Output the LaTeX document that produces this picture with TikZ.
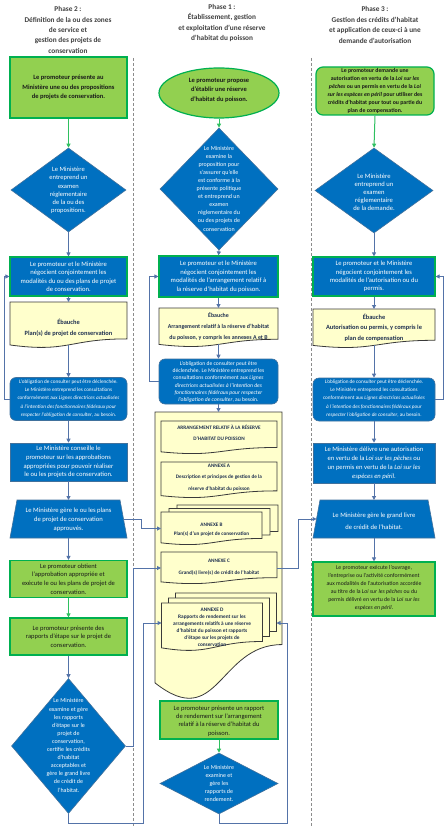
\documentclass[tikz,border=0pt]{standalone}
\usepackage{fontspec}
\setmainfont{Carlito}
\usetikzlibrary{shapes.geometric,arrows.meta,calc}
\definecolor{mblue}{HTML}{0070C0}
\definecolor{mbline}{HTML}{41719C}
\definecolor{mgreen}{HTML}{92D050}
\definecolor{mgline}{HTML}{00B050}
\definecolor{myel}{HTML}{FFFFCC}
\definecolor{mdline}{HTML}{3A3A3A}
\definecolor{conn}{HTML}{5473A8}
\definecolor{gconn}{HTML}{2FC060}
\definecolor{navy}{HTML}{1F3050}
\definecolor{ttl}{HTML}{404040}
\definecolor{sepc}{HTML}{8C8C8C}
\newcommand\fsz[2]{\fontsize{#1}{#2}\selectfont}
% name, cx, top, width, height
\newcommand\mydoc[5]{%
 \path[draw=mdline,fill=myel,line width=.8pt] ({#2-#4/2},#3) -- ({#2+#4/2},#3) -- ({#2+#4/2},{#3+0.802*#5}) .. controls (#2,{#3+0.802*#5}) and (#2,{#3+1.107*#5}) .. ({#2-#4/2},{#3+0.934*#5}) -- cycle;
 \node[inner sep=0pt,outer sep=0pt,minimum width=#4pt,minimum height=#5pt] (#1) at (#2,{#3+#5/2}) {};
 \coordinate (#1b) at (#2,{#3+0.933*#5});
}
% name: trapezoid outline from an invisible node
\newcommand\mytrap[1]{%
 \path[draw=mbline,fill=mblue,line width=.6pt] ([xshift=7pt]#1.north west) -- ([xshift=-7pt]#1.north east) -- (#1.south east) -- (#1.south west) -- cycle;
}
\tikzset{
 bluebox/.style={draw=mbline,fill=mblue,line width=.6pt,inner sep=0pt},
 gbbox/.style={draw=mgline,fill=mblue,line width=1.2pt,inner sep=0pt},
 greenbox/.style={draw=mgline,fill=mgreen,line width=1.2pt,inner sep=0pt},
 dia/.style={shape=diamond,draw=mbline,fill=mblue,line width=.6pt,inner sep=0pt},
 trapbase/.style={inner sep=0pt,outer sep=0pt},
 wt/.style={text=white,align=center,inner sep=0pt},
 dt/.style={text=black!90,align=center,inner sep=0pt},
 nt/.style={text=navy,align=center,inner sep=0pt},
 ttlt/.style={text=ttl,align=center,inner sep=0pt,font=\bfseries\fsz{7.3}{10.4}},
 arr/.style={draw=conn,line width=1pt,-{Triangle[length=4pt,width=4pt]}},
 garr/.style={draw=gconn,line width=1pt,-{Triangle[length=4pt,width=4pt]}},
 sepline/.style={draw=sepc,line width=1pt,dash pattern=on 3pt off 2pt},
}
\begin{document}
\begin{tikzpicture}[x=1pt,y=-1pt]
\useasboundingbox[fill=white] (0,0) rectangle (445,826);
% separators
\draw[sepline] (133,58) -- (133,826);
\draw[sepline] (311,58) -- (311,826);
% headers
\node[ttlt] (h2) at (68,30) {Phase 2~:\\Définition de la ou des zones\\de service et\\gestion des projets de\\conservation};
\node[ttlt] (h1) at (222,23) {Phase 1~:\\Établissement, gestion\\et exploitation d’une réserve\\d’habitat du poisson};
\node[ttlt] (h3) at (375,25) {Phase 3~:\\Gestion des crédits d’habitat\\et application de ceux-ci à une\\demande d’autorisation};

% ===== LEFT COLUMN =====
\node[greenbox,minimum width=117pt,minimum height=61pt] (LG1) at (68.5,87.5) {};
\node[dt,font=\bfseries\fsz{6.5}{9.5}] (LG1t) at (LG1) {Le promoteur présente au\\Ministère une ou des propositions\\de projets de conservation.};
\node[dia,minimum width=115pt,minimum height=84pt] (LD1) at (68.5,190) {};
\node[wt,font=\fsz{6.5}{8.2}] (LD1t) at (68.5,190.5) {Le Ministère\\entreprend un\\examen\\réglementaire\\de la ou des\\propositions.};
\node[gbbox,minimum width=117pt,minimum height=39pt] (LB1) at (68.5,276.5) {};
\node[wt,font=\fsz{6.6}{8.5}] (LB1t) at (LB1) {Le promoteur et le Ministère\\négocient conjointement les\\modalités du ou des plans de projet\\de conservation.};
\mydoc{LDoc}{68.5}{302}{117}{46}
\node[nt,font=\bfseries\fsz{6.4}{11}] (LDoct) at (68.5,327.5) {Ébauche\\Plan(s) de projet de conservation};
\node[bluebox,rounded corners=6pt,minimum width=117pt,minimum height=43pt] (LC) at (68.5,399) {};
\node[wt,font=\fsz{5.2}{8.2}] (LCt) at (68.5,398.5) {L’obligation de consulter peut être déclenchée.\\Le Ministère entreprend les consultations\\conformément aux \textit{Lignes directrices actualisées}\\\textit{à l’intention des fonctionnaires fédéraux pour}\\\textit{respecter l’obligation de consulter}, au besoin.};
\node[bluebox,minimum width=117pt,minimum height=38pt] (LB2) at (68.5,462) {};
\node[wt,font=\fsz{6.6}{8.8}] (LB2t) at (LB2) {Le Ministère conseille le\\promoteur sur les approbations\\appropriées pour pouvoir réaliser\\le ou les projets de conservation.};
\node[trapbase,minimum width=117pt,minimum height=38pt] (LT) at (68.5,519) {};
\mytrap{LT}
\node[wt,font=\fsz{6.6}{9}] (LTt) at (68.5,520) {Le Ministère gère le ou les plans\\de projet de conservation\\approuvés.};
\node[greenbox,minimum width=117pt,minimum height=37pt] (LG2) at (68.5,579) {};
\node[dt,font=\fsz{6.5}{8.7}] (LG2t) at (LG2) {Le promoteur obtient\\l’approbation appropriée et\\exécute le ou les plans de projet de\\conservation.};
\node[greenbox,minimum width=117pt,minimum height=37pt] (LG3) at (68.5,636.5) {};
\node[dt,font=\fsz{6.5}{8.7}] (LG3t) at (LG3) {Le promoteur présente des\\rapports d’étape sur le projet de\\conservation.};
\node[dia,minimum width=114pt,minimum height=135pt] (LD2) at (68.5,746) {};
\node[wt,font=\fsz{6}{8.1}] (LD2t) at (68.5,745.5) {Le Ministère\\examine et gère\\les rapports\\d’étape sur le\\projet de\\conservation,\\certifie les crédits\\d’habitat\\acceptables et\\gère le grand livre\\de crédit de\\l’habitat.};

% ===== MIDDLE COLUMN =====
\node[greenbox,ellipse,minimum width=120pt,minimum height=50pt] (ME) at (219,93) {};
\node[dt,font=\bfseries\fsz{6.5}{9.5}] (MEt) at (219,90) {Le promoteur propose\\d’établir une réserve\\d’habitat du poisson.};
\node[dia,minimum width=118pt,minimum height=122pt] (MD1) at (219,189) {};
\node[wt,font=\fsz{6}{8.1}] (MD1t) at (219,188.5) {Le Ministère\\examine la\\proposition pour\\s’assurer qu’elle\\est conforme à la\\présente politique\\et entreprend un\\examen\\réglementaire du\\ou des projets de\\conservation};
\node[gbbox,minimum width=119pt,minimum height=41pt] (MB1) at (218.5,276.5) {};
\node[wt,font=\fsz{6.6}{8.5}] (MB1t) at (MB1) {Le promoteur et le Ministère\\négocient conjointement les\\modalités de l’arrangement relatif à\\la réserve d’habitat du poisson.};
\mydoc{MDoc}{218.5}{308}{119}{39}
\node[nt,font=\bfseries\fsz{5.9}{11}] (MDoct) at (218.5,326) {Ébauche\\Arrangement relatif à la réserve d’habitat\\du poisson, y compris les annexes A et B};
\node[bluebox,rounded corners=6pt,minimum width=119pt,minimum height=45pt] (MC) at (218.5,381.5) {};
\node[wt,font=\fsz{5.6}{7.2}] (MCt) at (218.5,382) {L’obligation de consulter peut être\\déclenchée. Le Ministère entreprend les\\consultations conformément aux \textit{Lignes}\\\textit{directrices actualisées à l’intention des}\\\textit{fonctionnaires fédéraux pour respecter}\\\textit{l’obligation de consulter}, au besoin.};
% big document
\mydoc{Big}{218.5}{412}{127}{290}
\mydoc{DocAr}{219}{421}{116}{33}
\node[nt,font=\bfseries\fsz{5.2}{11}] (DocArt) at (219,432.5) {ARRANGEMENT RELATIF À LA RÉSERVE\\D’HABITAT DU POISSON};
\mydoc{DocA}{219}{462}{116}{36}
\node[nt,font=\bfseries\fsz{5.2}{11.5}] (DocAt) at (219,477.5) {ANNEXE A\\Description et principes de gestion de la\\réserve d’habitat du poisson};
\mydoc{DocBb}{227.5}{505}{101}{33}
\mydoc{DocBm}{219.5}{508.5}{101}{33}
\mydoc{DocBf}{211.5}{512}{101}{33}
\node[nt,font=\bfseries\fsz{5.2}{9}] (DocBt) at (211.5,529.5) {ANNEXE B\\Plan(s) d’un projet de conservation};
\mydoc{DocC}{219}{552}{116}{32}
\node[nt,font=\bfseries\fsz{5.2}{12}] (DocCt) at (219,567.5) {ANNEXE C\\Grand(s) livre(s) de crédit de l’habitat};
\mydoc{DocDb}{226}{593}{101}{48}
\mydoc{DocDm}{219}{598}{101}{48}
\mydoc{DocDf}{212}{603}{101}{48}
\node[nt,font=\bfseries\fsz{5.3}{7}] (DocDt) at (212,627.5) {ANNEXE D\\Rapports de rendement sur les\\arrangements relatifs à une réserve\\d’habitat du poisson et rapports\\d’étape sur les projets de\\conservation};
\node[greenbox,minimum width=118pt,minimum height=38pt] (MG) at (219,720) {};
\node[dt,font=\fsz{6.5}{8.4}] (MGt) at (219,721) {Le promoteur présente un rapport\\de rendement sur l’arrangement\\relatif à la réserve d’habitat du\\poisson.};
\node[dia,minimum width=118pt,minimum height=61pt] (MD2) at (219,783.5) {};
\node[wt,font=\fsz{6}{8.2}] (MD2t) at (219,783.5) {Le Ministère\\examine et\\gère les\\rapports de\\rendement.};

% ===== RIGHT COLUMN =====
\node[greenbox,rounded corners=7pt,minimum width=118pt,minimum height=48pt] (RG1) at (375,91) {};
\node[dt,font=\bfseries\fsz{5.8}{8}] (RG1t) at (375,91) {Le promoteur demande une\\autorisation en vertu de la \textit{Loi sur les}\\\textit{pêches} ou un permis en vertu de la \textit{Loi}\\\textit{sur les espèces en péril} pour utiliser des\\crédits d’habitat pour tout ou partie du\\plan de compensation.};
\node[dia,minimum width=118pt,minimum height=85pt] (RD1) at (374,190.5) {};
\node[wt,font=\fsz{6.6}{8.1}] (RD1t) at (374,192) {Le Ministère\\entreprend un\\examen\\réglementaire\\de la demande.};
\node[gbbox,minimum width=122pt,minimum height=39pt] (RB1) at (374,276.5) {};
\node[wt,font=\fsz{6.6}{8.3}] (RB1t) at (RB1) {Le promoteur et le Ministère\\négocient conjointement les\\modalités de l’autorisation ou du\\permis.};
\mydoc{RDoc}{374}{309}{122}{39}
\node[nt,font=\bfseries\fsz{6.4}{10.5}] (RDoct) at (374,327.5) {Ébauche\\Autorisation ou permis, y compris le\\plan de compensation};
\node[bluebox,rounded corners=6pt,minimum width=122pt,minimum height=43pt] (RC) at (374,399.5) {};
\node[wt,font=\fsz{5.2}{8.2}] (RCt) at (374,398.5) {L’obligation de consulter peut être déclenchée.\\Le Ministère entreprend les consultations\\conformément aux \textit{Lignes directrices actualisées}\\\textit{à l’intention des fonctionnaires fédéraux pour}\\\textit{respecter l’obligation de consulter}, au besoin.};
\node[bluebox,minimum width=122pt,minimum height=40pt] (RB2) at (374,463) {};
\node[wt,font=\fsz{6.6}{9}] (RB2t) at (RB2) {Le Ministère délivre une autorisation\\en vertu de la \textit{Loi sur les pêches} ou\\un permis en vertu de la \textit{Loi sur les}\\\textit{espèces en péril}.};
\node[trapbase,minimum width=122pt,minimum height=38pt] (RT) at (374,519) {};
\mytrap{RT}
\node[wt,font=\fsz{6.6}{12}] (RTt) at (374,521) {Le Ministère gère le grand livre\\de crédit de l’habitat.};
\node[greenbox,minimum width=122pt,minimum height=54pt] (RG2) at (374,589) {};
\node[dt,font=\fsz{5.8}{8}] (RG2t) at (374,588) {Le promoteur exécute l’ouvrage,\\l’entreprise ou l’activité conformément\\aux modalités de l’autorisation accordée\\au titre de la \textit{Loi sur les pêches} ou du\\permis délivré en vertu de la \textit{Loi sur les}\\\textit{espèces en péril}.};

% ===== CONNECTORS =====
\draw[garr] (LG1.south) -- (LD1.north);
\draw[arr] (LD1.south) -- (LB1.north);
\draw[arr] (LB1.south) -- (LDoc.north);
\draw[arr] (LDocb) -- (LC.north);
\draw[arr] (LC.west) -- ++(-5,0) |- (LB1.west);
\draw[arr] (LC.south) -- (LB2.north);
\draw[arr] (LB2.south) -- (LT.north);
\draw[arr] (LT.south) -- (LG2.north);
\draw[garr] (LG2.south) -- (LG3.north);
\draw[arr] (LG3.south) -- (LD2.north);
\draw[arr] ([xshift=-3.5pt]LT.east) -- ++(17.5,0) |- (DocBf.west);
\draw[arr] (LD2.east) -- ++(8,0) |- (DocC.west);
\draw[arr] (LD2.south) -- ++(0,10) -- ++(75,0) |- ([yshift=4pt]DocDf.west);

\draw[garr] (ME.south) -- (MD1.north);
\draw[arr] (MD1.south) -- (MB1.north);
\draw[arr] (MB1.south) -- (MDoc.north);
\draw[arr] (MDocb) -- (MC.north);
\draw[arr] (MC.west) -- ++(-9,0) |- (MB1.west);
\draw[arr] (MC.south) -- (Big.north);
\draw[garr] (MG.south) -- (MD2.north);
\draw[arr] (MD2.south) -- ++(0,9) -- ++(68,0) |- ([yshift=-6pt]DocDb.east);
\draw[arr] (DocC.east) -- ++(21,0) |- ([xshift=3.5pt]RT.west);

\draw[garr] (RG1.south) -- (RD1.north);
\draw[arr] (RD1.south) -- (RB1.north);
\draw[arr] (RB1.south) -- (RDoc.north);
\draw[arr] (RDocb) -- (RC.north);
\draw[arr] (RC.east) -- ++(8,0) |- (RB1.east);
\draw[arr] (RC.south) -- (RB2.north);
\draw[arr] (RB2.south) -- (RT.north);
\draw[arr] (RT.south) -- (RG2.north);
\end{tikzpicture}
\end{document}
